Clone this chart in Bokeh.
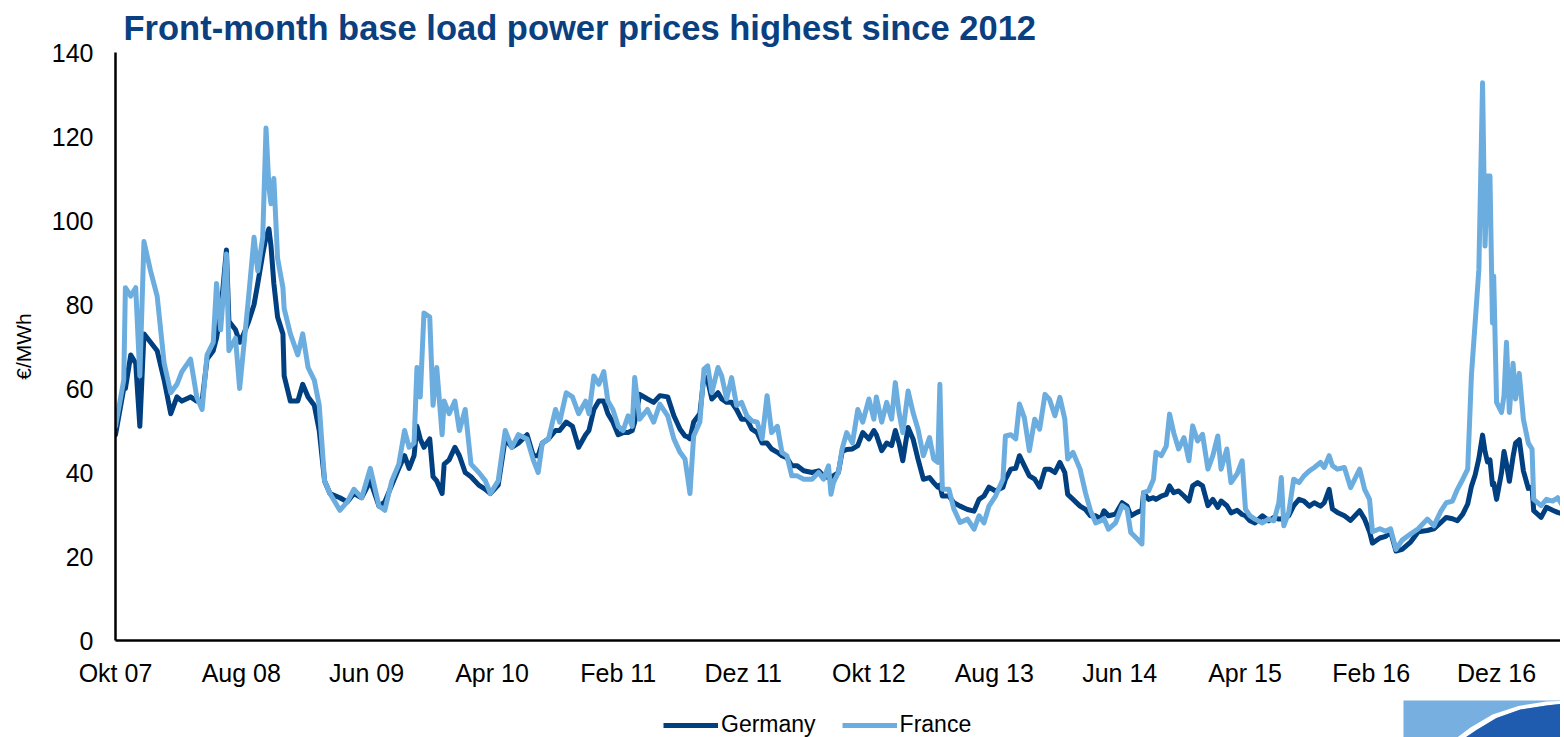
import pandas as pd
from bokeh.plotting import figure
from bokeh.layouts import column
from bokeh.models import (ColumnDataSource, FixedTicker, Legend, LegendItem, Range1d)
from bokeh.embed import file_html
from bokeh.resources import INLINE

# ---------------- data ----------------
dates = [
    "2007-10-01", "2007-10-21", "2007-10-25", "2007-11-07", "2007-11-19", "2007-11-29",
    "2007-12-09", "2007-12-25", "2008-01-10", "2008-01-27", "2008-02-12", "2008-02-27",
    "2008-03-10", "2008-03-31", "2008-04-15", "2008-04-28", "2008-05-10", "2008-05-25",
    "2008-06-02", "2008-06-12", "2008-06-26", "2008-07-02", "2008-07-18", "2008-07-28",
    "2008-08-07", "2008-08-19", "2008-09-01", "2008-09-10", "2008-09-22", "2008-09-30",
    "2008-10-07", "2008-10-12", "2008-10-19", "2008-10-28", "2008-11-10", "2008-11-13",
    "2008-11-28", "2008-12-16", "2008-12-28", "2009-01-10", "2009-01-25", "2009-02-06",
    "2009-02-19", "2009-03-04", "2009-03-28", "2009-04-15", "2009-05-01", "2009-05-20",
    "2009-06-10", "2009-07-01", "2009-07-15", "2009-08-01", "2009-08-18", "2009-09-01",
    "2009-09-12", "2009-09-24", "2009-10-01", "2009-10-09", "2009-10-18", "2009-11-01",
    "2009-11-09", "2009-11-18", "2009-12-01", "2009-12-06", "2009-12-18", "2010-01-01",
    "2010-01-12", "2010-01-26", "2010-02-09", "2010-02-28", "2010-03-16", "2010-03-28",
    "2010-04-16", "2010-05-03", "2010-05-19", "2010-06-04", "2010-06-25", "2010-07-10",
    "2010-07-22", "2010-08-01", "2010-08-16", "2010-09-02", "2010-09-12", "2010-09-28",
    "2010-10-13", "2010-10-28", "2010-11-14", "2010-11-22", "2010-12-04", "2010-12-16",
    "2010-12-28", "2011-01-07", "2011-01-19", "2011-02-01", "2011-02-13", "2011-02-25",
    "2011-03-07", "2011-03-13", "2011-03-25", "2011-04-13", "2011-04-28", "2011-05-13",
    "2011-06-01", "2011-06-16", "2011-07-01", "2011-07-13", "2011-07-19", "2011-07-25",
    "2011-08-03", "2011-08-18", "2011-08-28", "2011-09-06", "2011-09-16", "2011-10-01",
    "2011-10-10", "2011-10-22", "2011-11-03", "2011-11-15", "2011-11-27", "2011-12-10",
    "2011-12-22", "2012-01-04", "2012-01-16", "2012-01-28", "2012-02-08", "2012-02-22",
    "2012-03-04", "2012-03-16", "2012-03-28", "2012-04-10", "2012-04-26", "2012-05-16",
    "2012-06-01", "2012-06-13", "2012-06-25", "2012-07-01", "2012-07-07", "2012-07-19",
    "2012-07-28", "2012-08-08", "2012-08-22", "2012-09-04", "2012-09-16", "2012-10-01",
    "2012-10-13", "2012-10-19", "2012-11-01", "2012-11-13", "2012-11-25", "2012-12-04",
    "2012-12-13", "2012-12-22", "2013-01-04", "2013-01-16", "2013-01-28", "2013-02-10",
    "2013-02-25", "2013-03-07", "2013-03-17", "2013-03-22", "2013-03-28", "2013-04-13",
    "2013-04-25", "2013-05-10", "2013-05-28", "2013-06-13", "2013-06-25", "2013-07-07",
    "2013-07-19", "2013-08-04", "2013-08-22", "2013-08-28", "2013-09-10", "2013-09-22",
    "2013-10-01", "2013-10-13", "2013-10-25", "2013-11-07", "2013-11-19", "2013-12-02",
    "2013-12-13", "2013-12-26", "2014-01-07", "2014-01-19", "2014-01-26", "2014-02-08",
    "2014-02-25", "2014-03-10", "2014-03-22", "2014-04-04", "2014-04-16", "2014-04-24",
    "2014-05-05", "2014-05-22", "2014-06-07", "2014-06-19", "2014-06-28", "2014-07-13",
    "2014-07-25", "2014-07-29", "2014-08-10", "2014-08-22", "2014-08-28", "2014-09-10",
    "2014-09-22", "2014-09-30", "2014-10-10", "2014-10-22", "2014-11-04", "2014-11-16",
    "2014-11-25", "2014-12-07", "2014-12-19", "2015-01-01", "2015-01-13", "2015-01-25",
    "2015-02-02", "2015-02-16", "2015-02-26", "2015-03-13", "2015-03-25", "2015-04-02",
    "2015-04-13", "2015-04-25", "2015-05-13", "2015-05-28", "2015-06-10", "2015-06-22",
    "2015-06-28", "2015-07-04", "2015-07-16", "2015-07-28", "2015-08-10", "2015-08-22",
    "2015-09-04", "2015-09-16", "2015-10-01", "2015-10-10", "2015-10-22", "2015-10-30",
    "2015-11-11", "2015-11-28", "2015-12-13", "2016-01-04", "2016-01-16", "2016-01-28",
    "2016-02-04", "2016-02-22", "2016-03-07", "2016-03-19", "2016-04-01", "2016-04-16",
    "2016-05-07", "2016-05-25", "2016-06-16", "2016-07-02", "2016-07-19", "2016-08-01",
    "2016-08-16", "2016-08-28", "2016-09-10", "2016-09-22", "2016-10-01", "2016-10-10",
    "2016-10-19", "2016-10-28", "2016-11-03", "2016-11-09", "2016-11-15", "2016-11-21",
    "2016-11-24", "2016-12-01", "2016-12-13", "2016-12-19", "2016-12-25", "2017-01-01",
    "2017-01-10", "2017-01-16", "2017-01-25", "2017-02-04", "2017-02-16", "2017-02-25",
    "2017-03-01", "2017-03-19", "2017-04-01", "2017-04-16", "2017-04-28", "2017-05-10",
    "2017-05-14",
]

germany = [
    49, 60, 60, 68, 66, 51, 73, 71, 69, 62, 54, 58,
    57, 58, 57, 57, 67, 69, 72, 78, 93, 76, 74, 71,
    73, 76, 80, 85, 92, 96, 98, 94, 85, 77, 73, 63,
    57, 57, 61, 58, 56, 50, 38, 35, 34, 33, 35, 34,
    38, 32, 33, 37, 41, 44, 41, 44, 51, 48, 46, 48,
    39, 38, 35, 42, 43, 46, 44, 40, 39, 37, 36, 35,
    37, 48, 46, 47, 49, 44, 44, 47, 48, 50, 50, 52,
    51, 46, 49, 50, 55, 57, 57, 54, 52, 49, 49.5, 49.5,
    50, 52, 58.6, 57.5, 56.7, 58.3, 58, 53.5, 50.3, 48.7, 48.5, 48,
    52, 54, 63, 62, 57.5, 59, 57.5, 56.7, 56.7, 55, 52.7, 52.7,
    50.3, 49.5, 47, 47, 45.6, 44.8, 44, 43.5, 41.6, 41.6, 40.4, 40,
    40.4, 39.2, 38.8, 39, 39.2, 40, 45, 45.5, 45.6, 46.4, 49.5, 48,
    50, 49, 45.2, 47, 46.4, 50, 47, 42.8, 50.7, 48, 43.2, 38.4,
    38.8, 37.6, 36.5, 37, 34.4, 34.4, 32.8, 32, 31.2, 30.8, 33.6, 34.4,
    36.5, 35.6, 36.5, 38.4, 40.8, 41, 44, 41.6, 39.2, 38.4, 36.5, 40.8,
    40.8, 40, 42.4, 40, 34.8, 33.6, 32, 31.2, 29.7, 29.7, 28.9, 30.9,
    29.7, 30.1, 32.8, 32, 29.7, 30.5, 31, 35.2, 33.6, 34, 33.6, 34.4,
    34.8, 36.8, 35.2, 35.6, 34.4, 33.2, 36.8, 37.6, 36.8, 32.1, 33.6, 31.7,
    33.2, 32.1, 30.4, 31, 30, 29.7, 28.5, 28, 29.7, 28.5, 29.3, 28.9,
    29, 28.9, 29.7, 32.1, 33.6, 33.2, 32, 32.8, 32, 32.8, 36, 31.3,
    30.5, 29.7, 28.6, 30.9, 28.9, 25.9, 23.2, 24.4, 24.8, 25.9, 21.3, 21.7,
    23.5, 25.9, 26.2, 26.6, 28.1, 29.3, 29, 28.5, 30.1, 32.5, 36.7, 39.4,
    43.3, 48.9, 45, 42.5, 43, 37.1, 37.5, 33.6, 40, 45, 42, 37.9,
    43.8, 47, 47.8, 40.4, 36.2, 36.5, 30.9, 29.3, 31.7, 31, 30.5, 30.1,
    30,
]

france = [
    51, 62, 84, 82, 84, 63, 95, 88, 82, 66, 59, 61,
    64, 67, 58, 55, 68, 71, 85, 74, 92, 69, 72, 60,
    70, 82, 96, 88, 96, 122, 108, 104, 110, 91, 84, 79,
    73, 68, 73, 65, 62, 56, 38, 35, 31, 33, 36, 34,
    41, 32, 31, 38, 42, 50, 46, 47, 65, 58, 78, 77,
    56, 65, 49, 57, 54, 57, 50, 55, 42, 40, 38, 35,
    38, 50, 46, 49, 48, 43, 40, 47, 48, 55, 52, 59,
    58, 54, 57, 54, 63, 61, 64, 57, 55, 51, 50, 53.5,
    51, 62.6, 52.7, 55, 52, 56.3, 53.5, 48, 44.8, 43.2, 39.2, 35,
    48.7, 52, 64.6, 65.4, 59, 65, 63, 57.5, 62.6, 56, 56.7, 53.5,
    52.3, 52, 48, 58.3, 49.5, 51, 44.8, 44, 39.2, 39.2, 38.4, 38.4,
    40, 38.4, 41.6, 34.8, 37.6, 40, 45.6, 49.5, 47, 55, 52, 57.5,
    52.7, 58, 52, 56.7, 52.7, 61.4, 54.3, 49.5, 59.4, 54.3, 50.3, 44,
    48.3, 43.2, 42.4, 61, 36, 36, 31.3, 28.1, 28.9, 26.5, 29.7, 28,
    32, 34.4, 38.4, 48.7, 49, 48, 56.3, 53, 45.2, 52.7, 50.3, 58.6,
    57.4, 53.5, 57.9, 52.7, 43.2, 44.8, 40.8, 35.2, 31, 28, 28.5, 29,
    26.5, 28, 32.1, 31.3, 25.7, 24.2, 23, 35.2, 35.6, 38.4, 44.8, 44,
    46.3, 53.9, 49.5, 45.6, 48.3, 42.8, 51.1, 47.5, 49.1, 40.8, 44, 48.7,
    40.8, 45.6, 37.6, 39.7, 42.8, 31.3, 29.7, 28.9, 28, 28.9, 28.5, 32.8,
    38.8, 27.3, 30.5, 38.4, 37.6, 39.2, 40.4, 41.2, 42.4, 41.2, 44, 41.6,
    40.8, 41.2, 36.4, 40.8, 36, 33.6, 25.9, 26.6, 26, 26.6, 21.7, 23.9,
    25.4, 26.6, 28.9, 27.3, 30.8, 32.8, 33.2, 36, 38.4, 40.8, 63.2, 75.6,
    88.3, 132.8, 93.9, 110.6, 110.6, 75.6, 86.8, 56.7, 54.3, 58.3, 71, 54.3,
    66, 57.5, 63.6, 52.7, 47, 45.6, 33.6, 32.1, 33.6, 33.2, 34, 32.1,
    34.8,
]

series_names = ["Germany", "France"]
series_colors = ["#003F80", "#6CADDF"]

tick_dates = ["2007-10-01", "2008-08-01", "2009-06-01", "2010-04-01", "2011-02-01",
              "2011-12-01", "2012-10-01", "2013-08-01", "2014-06-01", "2015-04-01",
              "2016-02-01", "2016-12-01"]
tick_labels = ["Okt 07", "Aug 08", "Jun 09", "Apr 10", "Feb 11", "Dez 11",
               "Okt 12", "Aug 13", "Jun 14", "Apr 15", "Feb 16", "Dez 16"]
y_ticks = [0, 20, 40, 60, 80, 100, 120, 140]

title_text = "Front-month base load power prices highest since 2012"
y_label = "€/MWh"

# ---------------- main chart ----------------
FONT = "Liberation Sans"
W = 1560
LEFT = 115

src = ColumnDataSource(dict(date=pd.to_datetime(dates), germany=germany, france=france))

x_start = pd.Timestamp("2007-10-01")
x_end = pd.Timestamp("2017-05-05")

p = figure(frame_width=W - LEFT, frame_height=588, output_backend="svg", toolbar_location=None,
           x_axis_type="datetime",
           x_range=Range1d(x_start, x_end), y_range=Range1d(0, 140),
           min_border_left=LEFT, min_border_right=0, min_border_top=50, min_border_bottom=0)

p.title.text = title_text
p.title.text_font = FONT
p.title.text_font_size = "34.5px"
p.title.text_font_style = "bold"
p.title.text_color = "#0A4080"
p.title.align = "left"
p.title.offset = 8
p.title.standoff = 12

p.outline_line_color = None
p.xgrid.visible = False
p.ygrid.visible = False
p.background_fill_color = "white"
p.border_fill_color = "white"

r_de = p.line("date", "germany", source=src, line_color=series_colors[0], line_width=5,
              line_join="round", line_cap="round")
r_fr = p.line("date", "france", source=src, line_color=series_colors[1], line_width=5,
              line_join="round", line_cap="round")

tick_ms = [pd.Timestamp(d).value // 10**6 for d in tick_dates]
p.xaxis.ticker = FixedTicker(ticks=tick_ms)
p.xaxis.major_label_overrides = {t: l for t, l in zip(tick_ms, tick_labels)}
p.yaxis.ticker = FixedTicker(ticks=y_ticks)

for ax in (p.xaxis[0], p.yaxis[0]):
    ax.axis_line_color = "black"
    ax.axis_line_width = 2.5
    ax.major_tick_line_color = None
    ax.minor_tick_line_color = None
    ax.major_tick_out = 0
    ax.major_tick_in = 0
    ax.minor_tick_out = 0
    ax.minor_tick_in = 0
    ax.major_label_text_font = FONT
    ax.major_label_text_font_size = "25px"
    ax.major_label_text_color = "black"

p.xaxis.major_label_standoff = 18
p.yaxis.major_label_standoff = 22
p.yaxis.axis_label = y_label
p.yaxis.axis_label_text_font = FONT
p.yaxis.axis_label_text_font_size = "21px"
p.yaxis.axis_label_text_font_style = "normal"
p.yaxis.axis_label_text_color = "black"
p.yaxis.axis_label_standoff = 14

# ---------------- legend strip (separate small canvas below the chart) ----------------
LEG_H = 50
q = figure(frame_width=W - LEFT, frame_height=LEG_H, output_backend="svg", toolbar_location=None,
           x_range=Range1d(LEFT, W), y_range=Range1d(0, LEG_H),
           x_axis_location=None, y_axis_location=None,
           min_border_left=LEFT, min_border_right=0, min_border_top=0, min_border_bottom=0)
q.outline_line_color = None
q.xgrid.visible = False
q.ygrid.visible = False
q.background_fill_color = "white"
q.border_fill_color = "white"

# legend key renderers (their single segment lies outside the visible strip)
lg_de = q.line(x=[0, 1], y=[-50, -50], line_color=series_colors[0], line_width=5)
lg_fr = q.line(x=[0, 1], y=[-50, -50], line_color=series_colors[1], line_width=5)

legend = Legend(items=[LegendItem(label=series_names[0], renderers=[lg_de]),
                       LegendItem(label=series_names[1], renderers=[lg_fr])],
                orientation="horizontal", location=(663 - LEFT, 1))
legend.label_text_font = FONT
legend.label_text_font_size = "23px"
legend.label_text_color = "black"
legend.glyph_width = 55
legend.glyph_height = 20
legend.label_standoff = 3
legend.spacing = 26
legend.padding = 4
legend.margin = 0
legend.border_line_color = None
legend.background_fill_alpha = 0
q.add_layout(legend)

# decorative corner logo of the source slide (not data)
logo_light = "#77B0E0"
logo_dark = "#1F5BAE"
q.quad(left=1403, right=W, bottom=0, top=39, fill_color=logo_light, line_color=None)
q.patch(x=[1454, 1470, 1492, 1518, 1546, W, W, 1546, 1520, 1496, 1476, 1462],
        y=[0, 12, 25, 33.5, 38, 38.5, 35.5, 34, 30, 21.5, 9.5, 0],
        fill_color="white", line_color=None)
q.patch(x=[1462, 1476, 1496, 1520, 1546, W, W],
        y=[0, 9.5, 21.5, 30, 34, 35.5, 0],
        fill_color=logo_dark, line_color=None)

layout = column(p, q, spacing=0)

open("out.html", "w").write(file_html(layout, INLINE))
